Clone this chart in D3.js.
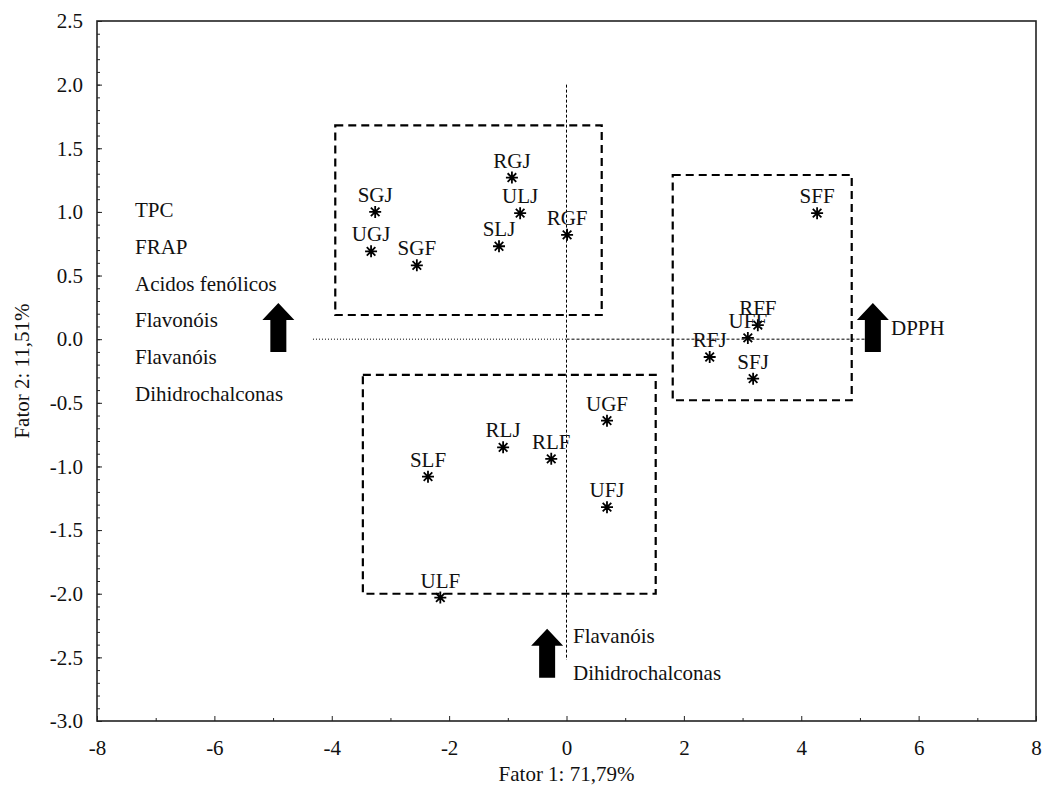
<!DOCTYPE html>
<html>
<head>
<meta charset="utf-8">
<script src="https://cdn.jsdelivr.net/npm/d3@7"></script>
<style>
  body { margin: 0; background: #fff; }
  text { font-family: "Liberation Serif", "Times New Roman", serif; fill: #111; }
</style>
</head>
<body>
<svg id="chart" width="1046" height="799"></svg>
<script>
// sample scores on factor 1 / factor 2
var labels = ["SGJ", "UGJ", "SGF", "RGJ", "ULJ", "SLJ", "RGF",
              "SFF", "RFF", "UFF", "RFJ", "SFJ",
              "UGF", "UFJ", "RLJ", "RLF", "SLF", "ULF"];
var fator1 = [-3.26, -3.33, -2.55, -0.93, -0.79, -1.15, 0.01,
              4.27, 3.26, 3.09, 2.44, 3.18,
              0.69, 0.69, -1.08, -0.26, -2.36, -2.15];
var fator2 = [1.00, 0.69, 0.58, 1.27, 0.99, 0.73, 0.82,
              0.99, 0.11, 0.01, -0.14, -0.31,
              -0.64, -1.32, -0.85, -0.94, -1.08, -2.03];

// group boxes [x0, x1, y0, y1]
var boxes = [[-3.94, 0.60, 0.19, 1.68],
             [1.81, 4.86, -0.48, 1.29],
             [-3.47, 1.52, -2.00, -0.28]];

var xTicks = [-8, -6, -4, -2, 0, 2, 4, 6, 8];
var yTicks = [-3.0, -2.5, -2.0, -1.5, -1.0, -0.5, 0.0, 0.5, 1.0, 1.5, 2.0, 2.5];

var leftNotes = ["TPC", "FRAP", "Acidos fenólicos", "Flavonóis", "Flavanóis", "Dihidrochalconas"];
var bottomNotes = ["Flavanóis", "Dihidrochalconas"];
var rightNotes = ["DPPH"];

var svg = d3.select("#chart");
var m = {left: 97, right: 1036, top: 21, bottom: 721};

var x = d3.scaleLinear().domain([-8, 8]).range([m.left, m.right]);
var y = d3.scaleLinear().domain([-3, 2.5]).range([m.bottom, m.top]);

// minor ticks
svg.append("g")
    .attr("transform", "translate(0," + m.bottom + ")")
    .call(d3.axisBottom(x).tickValues(d3.range(-7, 8, 2)).tickSize(-3).tickFormat(""))
    .call(g => g.select(".domain").remove());
svg.append("g")
    .attr("transform", "translate(" + m.left + ",0)")
    .call(d3.axisLeft(y).tickValues(d3.range(-29, 25).map(d => d / 10)).tickSize(-3).tickFormat(""))
    .call(g => g.select(".domain").remove());

// major ticks
var xAxis = svg.append("g")
    .attr("transform", "translate(0," + m.bottom + ")")
    .call(d3.axisBottom(x).tickValues(xTicks).tickSize(-5).tickPadding(19).tickFormat(d => String(d)));
var yAxis = svg.append("g")
    .attr("transform", "translate(" + m.left + ",0)")
    .call(d3.axisLeft(y).tickValues(yTicks).tickSize(-5).tickPadding(14).tickFormat(d => d.toFixed(1)));
[xAxis, yAxis].forEach(a => {
  a.select(".domain").remove();
  a.selectAll("text").attr("font-size", 21).attr("font-family", "Liberation Serif");
});
svg.selectAll(".tick line").attr("stroke", "#222");

svg.append("rect")
    .attr("x", m.left).attr("y", m.top)
    .attr("width", m.right - m.left).attr("height", m.bottom - m.top)
    .attr("fill", "none").attr("stroke", "#222").attr("stroke-width", 1.6);

// reference lines through origin
svg.append("line")
    .attr("x1", x(0)).attr("x2", x(0)).attr("y1", y(2.0)).attr("y2", y(-2.52))
    .attr("stroke", "#000").attr("stroke-width", 1).attr("stroke-dasharray", "3,2");
svg.append("line")
    .attr("x1", x(-4.32)).attr("x2", x(0)).attr("y1", y(0)).attr("y2", y(0))
    .attr("stroke", "#000").attr("stroke-width", 1).attr("stroke-dasharray", "1,2");
svg.append("line")
    .attr("x1", x(0)).attr("x2", x(5.08)).attr("y1", y(0)).attr("y2", y(0))
    .attr("stroke", "#000").attr("stroke-width", 1).attr("stroke-dasharray", "3,2");

// dashed group boxes
svg.selectAll("rect.box")
    .data(boxes)
    .enter()
  .append("rect")
    .attr("class", "box")
    .attr("x", d => x(d[0]))
    .attr("y", d => y(d[3]))
    .attr("width", d => x(d[1]) - x(d[0]))
    .attr("height", d => y(d[2]) - y(d[3]))
    .attr("fill", "none")
    .attr("stroke", "#000")
    .attr("stroke-width", 2.2)
    .attr("stroke-dasharray", "8,5");

// points
var pts = labels.map((l, i) => ({label: l, fx: fator1[i], fy: fator2[i]}));
var star = "M0,-6V6M-6,0H6M-4.3,-4.3L4.3,4.3M-4.3,4.3L4.3,-4.3";
var pg = svg.selectAll("g.pt")
    .data(pts)
    .enter()
  .append("g")
    .attr("class", "pt")
    .attr("transform", d => "translate(" + x(d.fx) + "," + y(d.fy) + ")");
pg.append("path")
    .attr("d", star)
    .attr("stroke", "#000")
    .attr("stroke-width", 1.8);
pg.append("text")
    .attr("y", -10)
    .attr("text-anchor", "middle")
    .attr("font-size", 21)
    .text(d => d.label);

// block arrows (anchored at bottom centre)
function arrow(cx, by) {
  var px = x(cx), py = y(by);
  var p = d3.path();
  p.moveTo(px - 8, py);
  p.lineTo(px - 8, py - 32);
  p.lineTo(px - 16, py - 32);
  p.lineTo(px, py - 49);
  p.lineTo(px + 16, py - 32);
  p.lineTo(px + 8, py - 32);
  p.lineTo(px + 8, py);
  p.closePath();
  svg.append("path").attr("d", p.toString()).attr("fill", "#000");
}
arrow(-4.91, -0.10);
arrow(5.22, -0.10);
arrow(-0.33, -2.66);

svg.selectAll("text.left")
    .data(leftNotes)
    .enter()
  .append("text")
    .attr("class", "left")
    .attr("x", 135)
    .attr("y", (d, i) => 217 + i * 36.8)
    .attr("font-size", 21)
    .text(d => d);

svg.selectAll("text.bottom")
    .data(bottomNotes)
    .enter()
  .append("text")
    .attr("class", "bottom")
    .attr("x", 573)
    .attr("y", (d, i) => 643 + i * 37)
    .attr("font-size", 21)
    .text(d => d);

svg.selectAll("text.right")
    .data(rightNotes)
    .enter()
  .append("text")
    .attr("class", "right")
    .attr("x", 891)
    .attr("y", 335)
    .attr("font-size", 21)
    .text(d => d);

// axis titles
svg.append("text")
    .attr("x", x(0))
    .attr("y", 781)
    .attr("text-anchor", "middle")
    .attr("font-size", 21)
    .text("Fator 1: 71,79%");
svg.append("text")
    .attr("transform", "translate(29," + y(-0.25) + ") rotate(-90)")
    .attr("text-anchor", "middle")
    .attr("font-size", 21)
    .text("Fator 2: 11,51%");
</script>
</body>
</html>
